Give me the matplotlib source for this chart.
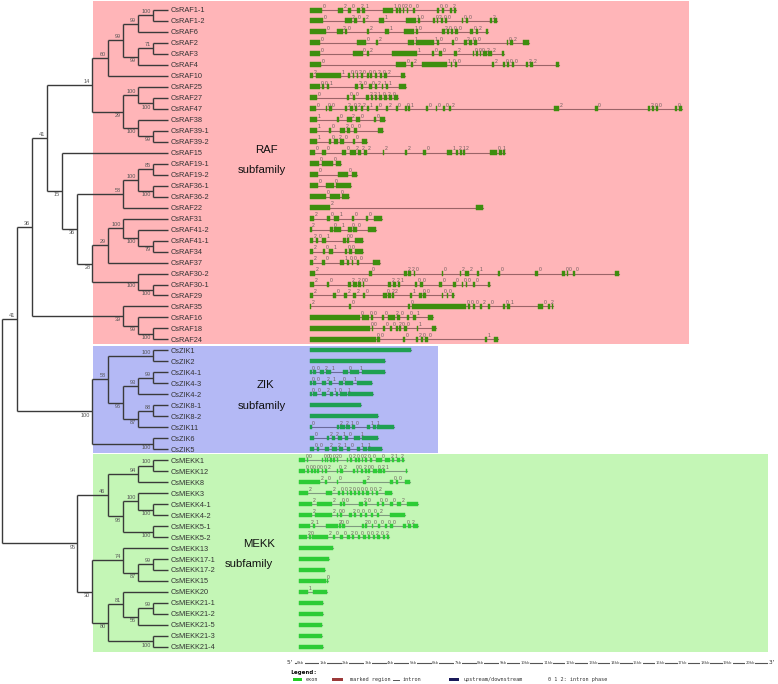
import matplotlib.pyplot as plt
from matplotlib.patches import Rectangle

plt.rcParams["font.family"] = ["Liberation Sans", "DejaVu Sans"]

# ---- tree (newick, bootstrap values as internal labels) ----
RAF_A = "((((CsRAF1-1,CsRAF1-2)100,CsRAF6)99,((CsRAF2,CsRAF3)71,CsRAF4)99)99,CsRAF10)60"
RAF_B = "((CsRAF25,(CsRAF27,CsRAF47)100)100,(CsRAF38,(CsRAF39-1,CsRAF39-2)99)100)29"
RAF_C = "(((CsRAF19-1,CsRAF19-2)85,(CsRAF36-1,CsRAF36-2)100)100,CsRAF22)58"
RAF_D = "((CsRAF31,(CsRAF41-2,(CsRAF41-1,CsRAF34)79)100)100,CsRAF37)29"
RAF_E = "(CsRAF30-2,(CsRAF30-1,CsRAF29)100)100"
RAF_F = "(CsRAF35,(CsRAF16,(CsRAF18,CsRAF24)100)99)39"
RAF = f"((({RAF_A},{RAF_B})14,(CsRAF15,({RAF_C},({RAF_D},{RAF_E})28)36)15)41,{RAF_F})36"
ZIK = ("(((CsZIK1,CsZIK2)100,(((CsZIK4-1,CsZIK4-3)99,CsZIK4-2)93,"
       "((CsZIK8-1,CsZIK8-2)88,CsZIK11)87)96)58,(CsZIK6,CsZIK5)100)100")
MEKK_A = ("(((CsMEKK1,CsMEKK12)100,CsMEKK8)94,((CsMEKK3,(CsMEKK4-1,CsMEKK4-2)100)100,"
          "(CsMEKK5-1,CsMEKK5-2)100)98)46")
MEKK_B = ("((CsMEKK13,((CsMEKK17-1,CsMEKK17-2)99,CsMEKK15)87)74,((CsMEKK20,"
          "((CsMEKK21-1,CsMEKK21-2)99,CsMEKK21-5)56)81,(CsMEKK21-3,CsMEKK21-4)100)80)30")
TREE = f"(({RAF},{ZIK})41,({MEKK_A},{MEKK_B})95)"

# ---- gene structures: exons (start, end) in kb from gene start, intron phases ----
RAF_EXONS = {
    "CsRAF1-1": [(0, .55), (1.23, 1.48), (1.71, 1.82), (2.11, 2.23), (2.30, 2.45), (3.26, 3.71), (3.83, 3.90),
                 (3.98, 4.05), (4.12, 4.20), (4.30, 4.38), (4.57, 4.69), (5.64, 5.73), (5.86, 5.96), (6.23, 6.31),
                 (6.41, 6.50)],
    "CsRAF1-2": [(0, .59), (1.56, 1.85), (1.96, 2.08), (2.34, 2.45), (3.09, 3.29), (4.27, 4.72), (4.82, 4.90),
                 (5.46, 5.55), (5.64, 5.71), (5.82, 5.91), (6.02, 6.11), (6.78, 6.82), (6.93, 7.05), (8.01, 8.09),
                 (8.19, 8.31)],
    "CsRAF6": [(0, .71), (1.19, 1.45), (1.56, 1.66), (2.55, 2.64), (3.34, 3.53), (4.18, 4.63), (4.72, 4.81),
               (5.88, 5.99), (6.08, 6.17), (6.26, 6.38), (6.47, 6.60), (7.12, 7.27), (7.39, 7.49), (7.83, 7.94)],
    "CsRAF2": [(0, .45), (2.11, 2.49), (2.94, 3.04), (4.35, 4.63), (4.72, 5.52), (5.64, 5.73), (6.32, 6.41),
               (6.85, 6.97), (7.09, 7.20), (7.30, 7.42), (8.75, 8.83), (8.90, 9.02), (9.50, 9.73)],
    "CsRAF3": [(0, .45), (1.90, 2.34), (2.52, 2.64), (3.64, 4.75), (5.42, 5.52), (5.76, 5.86), (6.42, 6.53),
               (7.24, 7.31), (7.39, 7.48), (7.57, 7.63), (7.70, 7.86), (7.92, 8.10), (8.53, 8.64)],
    "CsRAF4": [(0, .49), (3.83, 4.27), (4.48, 4.60), (4.97, 6.08), (6.28, 6.34), (6.45, 6.53), (8.09, 8.19),
               (8.61, 8.68), (8.78, 8.87), (8.98, 9.08), (9.60, 9.70), (9.79, 9.94), (10.95, 11.10)],
    "CsRAF10": [(0, .15), (.27, 1.38), (1.71, 1.78), (1.90, 1.97), (2.08, 2.15), (2.26, 2.34), (2.55, 2.61),
                (2.67, 2.76), (2.89, 3.00), (3.12, 3.19), (3.29, 3.41), (4.05, 4.23)],
    "CsRAF25": [(0, .45), (.55, .64), (.74, .86), (2.00, 2.12), (2.27, 2.37), (2.64, 2.74), (2.89, 3.00),
                (3.19, 3.26), (3.37, 3.49), (3.98, 4.27)],
    "CsRAF27": [(0, .30), (1.63, 1.75), (1.90, 2.00), (2.49, 2.61), (2.70, 2.79), (2.89, 3.00), (3.09, 3.19),
                (3.29, 3.41), (3.53, 3.64), (3.75, 3.93)],
    "CsRAF47": [(0, .27), (.70, .77), (.86, .96), (1.56, 1.66), (1.78, 1.90), (2.00, 2.08), (2.26, 2.34),
                (2.55, 2.64), (2.94, 3.04), (3.38, 3.49), (3.83, 3.90), (4.23, 4.30), (4.38, 4.45), (5.16, 5.24),
                (5.59, 5.67), (5.93, 6.02), (6.20, 6.26), (10.88, 11.10), (12.70, 12.80), (15.06, 15.12),
                (15.20, 15.30), (15.40, 15.50), (16.25, 16.32), (16.40, 16.55)],
    "CsRAF38": [(0, .30), (1.19, 1.31), (1.66, 1.85), (2.05, 2.23), (2.85, 2.94), (3.12, 3.34)],
    "CsRAF39-1": [(0, .33), (.85, .93), (1.34, 1.56), (1.66, 1.78), (1.97, 2.08), (3.04, 3.23)],
    "CsRAF39-2": [(0, .30), (.85, .92), (1.08, 1.26), (1.34, 1.51), (1.93, 2.00), (2.30, 2.52)],
    "CsRAF15": [(0, .22), (.52, .71), (1.41, 1.60), (1.78, 2.03), (2.15, 2.26), (2.40, 2.55), (3.23, 3.31),
                (4.23, 4.30), (5.04, 5.15), (6.11, 6.31), (6.50, 6.60), (6.68, 6.75), (6.80, 6.90), (8.01, 8.34),
                (8.43, 8.53), (8.61, 8.69)],
    "CsRAF19-1": [(0, .42), (.55, 1.01), (1.16, 1.37)],
    "CsRAF19-2": [(0, .37), (1.23, 1.71), (1.85, 2.11)],
    "CsRAF36-1": [(0, .37), (.70, 1.08), (1.14, 1.81)],
    "CsRAF36-2": [(0, .70), (.89, 1.34), (1.41, 1.74)],
    "CsRAF22": [(0, .89), (7.37, 7.72)],
    "CsRAF31": [(0, .18), (.77, .89), (1.08, 1.31), (1.85, 1.96), (2.49, 2.60), (2.85, 3.19)],
    "CsRAF41-2": [(0, .07), (.89, 1.01), (1.08, 1.37), (1.71, 1.85), (1.93, 2.08), (2.60, 2.94)],
    "CsRAF41-1": [(0, .15), (.27, .37), (.55, .71), (1.48, 1.60), (1.66, 1.75), (2.00, 2.34)],
    "CsRAF34": [(0, .12), (.56, .68), (.86, 1.04), (1.56, 1.66), (1.75, 1.85), (2.00, 2.34)],
    "CsRAF37": [(0, .15), (.52, .67), (1.34, 1.51), (1.63, 1.74), (1.85, 1.93), (2.08, 2.20), (2.79, 3.12)],
    "CsRAF30-2": [(0, .22), (2.64, 2.74), (4.18, 4.30), (4.38, 4.48), (4.62, 4.68), (5.86, 5.93), (6.68, 6.72),
                  (6.90, 7.08), (7.42, 7.52), (8.38, 8.46), (10.01, 10.16), (11.20, 11.35), (11.42, 11.50),
                  (11.70, 11.80), (13.57, 13.77)],
    "CsRAF30-1": [(0, .18), (.74, .86), (1.71, 1.81), (1.90, 2.08), (2.15, 2.26), (2.34, 2.40), (3.49, 3.59),
                  (3.68, 3.83), (3.93, 4.00), (4.67, 4.78), (4.90, 5.01), (5.76, 5.86), (6.38, 6.48), (6.75, 6.82),
                  (6.94, 7.00), (7.27, 7.34), (7.94, 8.01)],
    "CsRAF29": [(0, .12), (1.04, 1.16), (1.51, 1.63), (1.93, 2.05), (2.34, 2.45), (3.26, 3.41), (3.49, 3.59),
                (3.64, 3.74), (4.45, 4.53), (4.87, 4.97), (5.04, 5.15), (5.86, 5.93), (6.08, 6.16), (6.31, 6.41)],
    "CsRAF35": [(0, .04), (1.75, 1.81), (4.38, 4.45), (4.52, 6.94), (7.05, 7.12), (7.27, 7.34), (7.57, 7.64),
                (7.91, 8.01), (8.61, 8.68), (8.78, 8.90), (10.16, 10.36), (10.60, 10.68), (10.76, 10.83)],
    "CsRAF16": [(0, 2.23), (2.30, 2.63), (2.73, 2.82), (3.19, 3.31), (3.49, 3.78), (3.88, 4.00), (4.33, 4.42),
                (4.60, 4.70), (5.27, 5.46)],
    "CsRAF18": [(0, 2.67), (2.74, 2.82), (3.23, 3.34), (3.56, 3.64), (3.83, 3.93), (3.98, 4.04), (4.19, 4.30),
                (4.75, 4.82), (5.42, 5.59)],
    "CsRAF24": [(0, 2.94), (3.00, 3.12), (4.15, 4.23), (4.72, 4.82), (4.93, 5.01), (5.10, 5.27), (7.79, 7.89),
                (8.19, 8.38)],
}
RAF_PHASES = {
    "CsRAF1-1": "02021100200002", "CsRAF1-2": "02021100200002", "CsRAF6": "0202110200002",
    "CsRAF2": "002110020002", "CsRAF3": "002100200022", "CsRAF4": "002100200022",
    "CsRAF10": "21002000202", "CsRAF25": "001200211", "CsRAF27": "000221020",
    "CsRAF47": "00020221020010002202000", "CsRAF38": "10200", "CsRAF39-1": "10200", "CsRAF39-2": "10200",
    "CsRAF15": "000222220121201", "CsRAF19-1": "00", "CsRAF19-2": "00", "CsRAF36-1": "00", "CsRAF36-2": "00",
    "CsRAF22": "2", "CsRAF31": "20100", "CsRAF41-2": "20100", "CsRAF41-1": "20100", "CsRAF34": "20100",
    "CsRAF37": "201000", "CsRAF30-2": "20220022100000", "CsRAF30-1": "2022002210000000",
    "CsRAF29": "2022002210000", "CsRAF35": "200000200102", "CsRAF16": "00002001", "CsRAF18": "00002001",
    "CsRAF24": "0002001",
}
ZIK_EXONS = {
    "CsZIK1": [(0, 4.48)],
    "CsZIK2": [(0, 3.34)],
    "CsZIK4-1": [(0, .07), (.12, .27), (.45, .62), (.71, .92), (1.48, 1.71), (1.80, 2.20), (2.30, 3.34)],
    "CsZIK4-3": [(0, .07), (.12, .27), (.52, .71), (.86, 1.00), (1.31, 1.45), (1.56, 1.93), (2.08, 2.74)],
    "CsZIK4-2": [(0, .07), (.15, .30), (.52, .71), (.89, 1.01), (1.16, 1.26), (1.34, 1.63), (1.71, 2.79)],
    "CsZIK8-1": [(0, 2.26)],
    "CsZIK8-2": [(0, 3.04)],
    "CsZIK11": [(0, .07), (1.19, 1.31), (1.34, 1.56), (1.60, 1.78), (1.85, 2.00), (2.52, 2.67), (2.82, 2.94),
                (3.00, 3.74)],
    "CsZIK6": [(0, .18), (.74, .86), (.96, 1.11), (1.26, 1.41), (1.56, 1.71), (1.97, 2.23), (2.30, 3.04)],
    "CsZIK5": [(0, .18), (.30, .42), (.67, .86), (.96, 1.19), (1.31, 1.48), (1.63, 1.78), (2.08, 2.23),
               (2.37, 2.52), (2.60, 3.19)],
}
ZIK_PHASES = {
    "CsZIK4-1": "002101", "CsZIK4-3": "002101", "CsZIK4-2": "002101",
    "CsZIK11": "0221011", "CsZIK6": "022101", "CsZIK5": "00221011",
}
MEKK_EXONS = {
    "CsMEKK1": [(0, .25), (.36, .40), (.99, 1.07), (1.14, 1.19), (1.25, 1.29), (1.36, 1.44), (1.51, 1.59),
                (1.66, 1.74), (2.11, 2.18), (2.26, 2.33), (2.48, 2.55), (2.63, 2.70), (2.77, 2.85), (2.92, 3.00),
                (3.15, 3.22), (3.41, 3.66), (3.81, 4.04), (4.11, 4.21), (4.33, 4.48), (4.55, 4.66)],
    "CsMEKK12": [(0, .25), (.36, .45), (.50, .59), (.65, .74), (.80, .89), (.99, 1.07), (1.14, 1.25),
                 (1.66, 1.74), (1.81, 1.93), (2.40, 2.48), (2.55, 2.63), (2.73, 2.82), (2.92, 3.00), (3.07, 3.15),
                 (3.29, 3.47), (3.52, 3.66), (3.74, 3.81), (4.75, 4.81)],
    "CsMEKK8": [(0, .92), (1.14, 1.25), (1.66, 1.74), (2.82, 2.97), (4.04, 4.18), (4.30, 4.41), (4.70, 4.93)],
    "CsMEKK3": [(0, .40), (1.19, 1.44), (1.74, 1.81), (1.91, 1.99), (2.11, 2.18), (2.26, 2.36), (2.43, 2.52),
                (2.63, 2.70), (2.77, 2.88), (2.99, 3.12), (3.22, 3.29), (3.41, 3.49), (3.81, 4.11)],
    "CsMEKK4-1": [(0, .55), (.77, 1.44), (1.81, 1.88), (1.96, 2.03), (2.67, 2.82), (2.92, 3.03), (3.47, 3.56),
                  (3.66, 3.77), (4.04, 4.15), (4.33, 4.51), (4.78, 5.30)],
    "CsMEKK4-2": [(0, .55), (.70, 1.44), (1.66, 1.74), (1.81, 1.88), (2.23, 2.33), (2.43, 2.52), (2.70, 2.77),
                  (2.92, 3.00), (3.18, 3.29), (3.47, 3.56), (4.04, 4.70)],
    "CsMEKK5-1": [(0, .47), (.62, .70), (1.19, 1.74), (1.78, 1.84), (1.88, 2.03), (2.77, 2.88), (2.92, 3.00),
                  (3.22, 3.29), (3.52, 3.59), (3.81, 3.89), (4.04, 4.15), (4.63, 4.75), (4.85, 4.96),
                  (5.04, 5.30)],
    "CsMEKK5-2": [(0, .36), (.45, .50), (.55, 1.29), (1.48, 1.59), (1.81, 1.96), (2.14, 2.26), (2.33, 2.43),
                  (2.63, 2.70), (2.85, 2.97), (3.07, 3.15), (3.29, 3.38), (3.47, 3.59), (3.71, 3.81),
                  (3.89, 3.98)],
    "CsMEKK13": [(0, 1.48)],
    "CsMEKK17-1": [(0, 1.32)],
    "CsMEKK17-2": [(0, 1.14)],
    "CsMEKK15": [(0, 1.19), (1.23, 1.28)],
    "CsMEKK20": [(0, .40), (.59, 1.25)],
    "CsMEKK21-1": [(0, 1.04)],
    "CsMEKK21-2": [(0, 1.04)],
    "CsMEKK21-5": [(0, 1.00)],
    "CsMEKK21-3": [(0, 1.00)],
    "CsMEKK21-4": [(0, 1.07)],
}
MEKK_PHASES = {
    "CsMEKK1": "0000002002002000212", "CsMEKK12": "00000020200200021", "CsMEKK8": "200200",
    "CsMEKK3": "220020000002", "CsMEKK4-1": "2200200002", "CsMEKK4-2": "2200200002",
    "CsMEKK5-1": "2120020000002", "CsMEKK5-2": "2020020000202", "CsMEKK15": "0", "CsMEKK20": "1",
}

SUBFAMILIES = ["RAF", "ZIK", "MEKK"]
KB_TICKS = list(range(0, 21))
LEGEND_ITEMS = ["exon", "marked region", "intron", "upstream/downstream", "0 1 2: intron phase"]

# ---- layout (pixel space of the 778 x 684 canvas) ----
TIP_X, STEP = 168, 15.12
ROW0, ROW_H = 10, 10.98
KB_PX = 22.47
PANELS = {  # gene start x, background box, colours, exon height, title positions
    "RAF": dict(gx=310, box=(93, 1, 596, 343), bg="#FFB5B8", exon="#3E8E0E", intron="#9B6468",
                h=5.0, title=(266, 150, 262, 170)),
    "ZIK": dict(gx=310, box=(93, 346, 345, 107), bg="#B4B9F5", exon="#1FA052", intron="#6a6a9a",
                h=4.2, title=(265, 385, 262, 406)),
    "MEKK": dict(gx=299.3, box=(93, 454, 675, 198), bg="#C4F6B6", exon="#2DCC36", intron="#7f9a7f",
                 h=4.4, title=(259, 544, 249, 564)),
}


def parse(s, i=0):
    if s[i] == "(":
        kids = []
        i += 1
        while True:
            kid, i = parse(s, i)
            kids.append(kid)
            c = s[i]
            i += 1
            if c == ")":
                break
        j = i
        while j < len(s) and s[j] not in ",()":
            j += 1
        return {"kids": kids, "label": s[i:j]}, j
    j = i
    while s[j] not in ",()":
        j += 1
    return {"kids": [], "name": s[i:j]}, j


def layout(node, leaves):
    if not node["kids"]:
        node["y"] = ROW0 + ROW_H * len(leaves)
        node["h"] = 0
        leaves.append(node)
    else:
        for k in node["kids"]:
            layout(k, leaves)
        node["h"] = max(k["h"] for k in node["kids"]) + 1
        node["y"] = (node["kids"][0]["y"] + node["kids"][-1]["y"]) / 2
    node["x"] = TIP_X - STEP * node["h"]


def draw_tree(ax, node):
    if not node["kids"]:
        return
    kids = node["kids"]
    ax.plot([node["x"]] * 2, [kids[0]["y"], kids[-1]["y"]], color="#3a3a3a", lw=1.0, solid_capstyle="butt")
    for idx, k in enumerate(kids):
        ax.plot([node["x"], k["x"]], [k["y"]] * 2, color="#3a3a3a", lw=1.0, solid_capstyle="butt")
        if k["kids"]:
            upper = idx == 0
            ax.text(k["x"] - 2, k["y"] - 1.2 if upper else k["y"] + 1.2, k["label"], fontsize=4,
                    color="#555555", ha="right", va="bottom" if upper else "top")
        draw_tree(ax, k)


fig = plt.figure(figsize=(7.78, 6.84), dpi=100)
ax = fig.add_axes([0, 0, 1, 1])
ax.set_xlim(0, 778)
ax.set_ylim(684, 0)
ax.axis("off")

# backgrounds and subfamily titles
for fam in SUBFAMILIES:
    p = PANELS[fam]
    bx, by, bw, bh = p["box"]
    ax.add_patch(Rectangle((bx, by), bw, bh, facecolor=p["bg"], edgecolor="none", zorder=0))
    tx, ty, sx, sy = p["title"]
    ax.text(tx, ty, fam, fontsize=8.2, ha="center", va="center", color="#111111")
    ax.text(sx, sy, "subfamily", fontsize=8.2, ha="center", va="center", color="#111111")

root, _ = parse(TREE)
leaves = []
layout(root, leaves)
draw_tree(ax, root)

exon_tables = [(RAF_EXONS, RAF_PHASES, "RAF"), (ZIK_EXONS, ZIK_PHASES, "ZIK"), (MEKK_EXONS, MEKK_PHASES, "MEKK")]
for leaf in leaves:
    name, y = leaf["name"], leaf["y"]
    ax.text(TIP_X + 3, y, name, fontsize=5.3, color="#333333", ha="left", va="center_baseline")
    for exons, phases, fam in exon_tables:
        if name not in exons:
            continue
        p = PANELS[fam]
        ex = exons[name]
        x0 = p["gx"]
        ax.plot([x0 + ex[0][0] * KB_PX, x0 + ex[-1][1] * KB_PX], [y, y], color=p["intron"], lw=0.8, zorder=2)
        for s, e in ex:
            ax.add_patch(Rectangle((x0 + s * KB_PX, y - p["h"] / 2), (e - s) * KB_PX, p["h"],
                                   facecolor=p["exon"], edgecolor=p["exon"], lw=0.3, zorder=3))
        for (s, e), ph in zip(ex[:-1], phases.get(name, "")):
            ax.text(x0 + e * KB_PX + 0.6, y - 1.3, ph, fontsize=3.6, color="#6a5a5a",
                    ha="left", va="bottom", zorder=4)

# scale bar
mono = "DejaVu Sans Mono"
axis_y = 663
ax.plot([295, 767], [axis_y, axis_y], color="#555555", lw=0.8)
ax.text(290, axis_y, "5'", fontsize=4.5, family=mono, ha="center", va="center", color="#333333")
ax.text(772, axis_y, "3'", fontsize=4.5, family=mono, ha="center", va="center", color="#333333")
for k in KB_TICKS:
    tx = 300.7 + k * KB_PX
    ax.plot([tx, tx], [axis_y - 1.5, axis_y + 1.5], color="#555555", lw=0.5)
    ax.text(tx, axis_y + 0.3, f"{k}kb", fontsize=2.8, family=mono, ha="center", va="center",
            color="#444444", bbox=dict(facecolor="white", edgecolor="none", pad=0.2))

# legend
ax.text(290, 672.7, "Legend:", fontsize=4.6, family=mono, fontweight="bold", ha="left", va="center")
ly = 679.5
ax.add_patch(Rectangle((293, ly - 1.3), 9, 2.6, facecolor="#22cc22", edgecolor="none"))
ax.text(306, ly, LEGEND_ITEMS[0], fontsize=3.7, family=mono, va="center", color="#333333")
ax.add_patch(Rectangle((332, ly - 1.6), 11, 3.2, facecolor="#9c3a3a", edgecolor="none"))
ax.text(350, ly, LEGEND_ITEMS[1], fontsize=3.7, family=mono, va="center", color="#333333")
ax.plot([393, 399], [ly, ly], color="#555555", lw=0.7)
ax.text(403, ly, LEGEND_ITEMS[2], fontsize=3.7, family=mono, va="center", color="#333333")
ax.add_patch(Rectangle((449, ly - 1.2), 10, 2.4, facecolor="#1a1a5a", edgecolor="none"))
ax.text(464, ly, LEGEND_ITEMS[3], fontsize=3.7, family=mono, va="center", color="#333333")
ax.text(548, ly, LEGEND_ITEMS[4], fontsize=3.7, family=mono, va="center", color="#333333")

fig.savefig("out.png", dpi=100)
